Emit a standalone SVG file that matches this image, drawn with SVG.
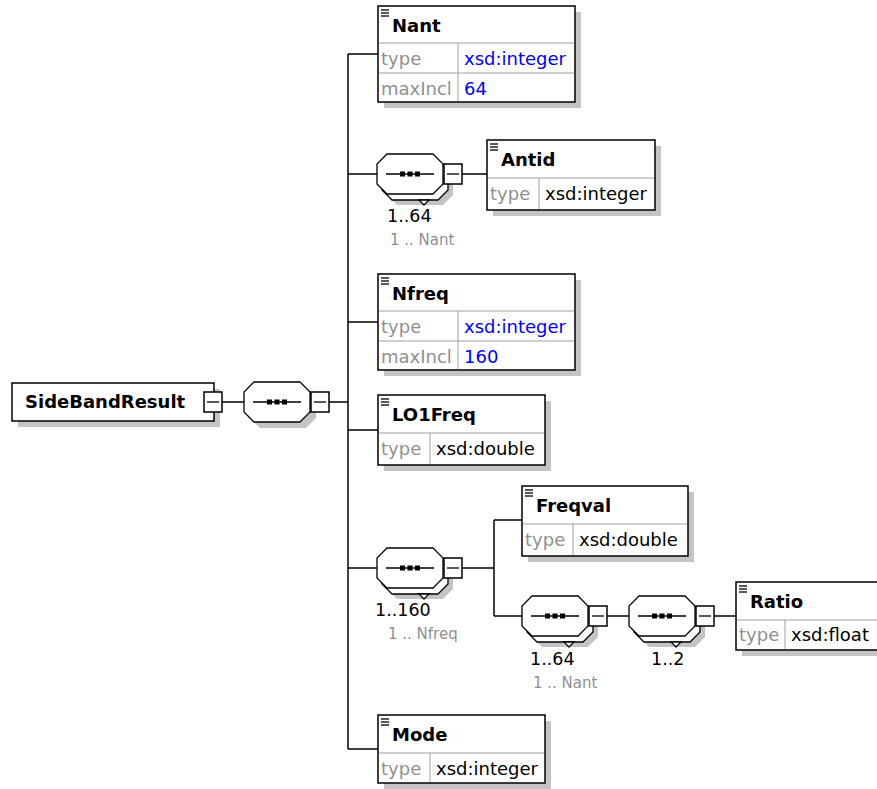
<svg xmlns="http://www.w3.org/2000/svg" width="877" height="789" viewBox="0 0 877 789">
<style>
.bg{fill:#fff}
.box{fill:#fff;stroke:#000;stroke-width:1.5}
.sh{fill:#c4c4c4}
.sep{stroke:#a0a0a0;stroke-width:1}
.conn{stroke:#000;stroke-width:1.5;fill:none}
.ico{stroke:#000;stroke-width:1.3}
.ttl{font-family:"DejaVu Sans",Verdana,sans-serif;font-weight:bold;font-size:18px;fill:#000}
.lbl{font-family:"DejaVu Sans",Verdana,sans-serif;font-size:18px;fill:#909090}
.val{font-family:"DejaVu Sans",Verdana,sans-serif;font-size:18px;fill:#000}
.blue{fill:#0000ff}
.occ{font-family:"DejaVu Sans",Verdana,sans-serif;font-size:17.5px;fill:#000}
.occ2{font-family:"DejaVu Sans",Verdana,sans-serif;font-size:15px;fill:#909090}
.oct{fill:#fff;stroke:#000;stroke-width:1.3}
</style>
<defs>
<g id="seqCore">
<polygon class="oct" points="10,0 56,0 66,10 66,30 56,40 10,40 0,30 0,10"/>
<line x1="9" y1="20" x2="57" y2="20" stroke="#000" stroke-width="1.3"/>
<rect x="23" y="17.5" width="5" height="5" fill="#000"/>
<rect x="30.5" y="17.5" width="5" height="5" fill="#000"/>
<rect x="38" y="17.5" width="5" height="5" fill="#000"/>
<rect x="67" y="10" width="18" height="20" class="box" stroke-width="1.3"/>
<line x1="70" y1="20" x2="82" y2="20" stroke="#000" stroke-width="1.3"/>
</g>
<g id="seqOne">
<polygon class="sh" points="16,6 62,6 72,16 72,36 62,46 16,46 6,36 6,16"/>
<use href="#seqCore"/>
</g>
<g id="seqMulti">
<polygon class="sh" points="20,11 66,11 76,21 76,41 66,51 20,51 10,41 10,21"/>
<polygon class="oct" points="15,6 61,6 71,16 71,36 61,46 15,46 5,36 5,16"/>
<polygon class="oct" points="42,46 52,46 47,51"/>
<use href="#seqCore"/>
</g>
<g id="icon">
<line class="ico" x1="3" y1="4" x2="11" y2="4"/>
<line class="ico" x1="3" y1="7" x2="11" y2="7"/>
<line class="ico" x1="3" y1="10" x2="11" y2="10"/>
</g>
</defs>
<rect class="bg" x="0" y="0" width="877" height="789"/>

<g id="connectors">
<line class="conn" x1="222" y1="402" x2="244" y2="402"/>
<line class="conn" x1="328" y1="402" x2="348" y2="402"/>
<line class="conn" x1="348" y1="54" x2="348" y2="749"/>
<line class="conn" x1="348" y1="54" x2="378" y2="54"/>
<line class="conn" x1="348" y1="174" x2="377" y2="174"/>
<line class="conn" x1="348" y1="322" x2="378" y2="322"/>
<line class="conn" x1="348" y1="430" x2="378" y2="430"/>
<line class="conn" x1="348" y1="568" x2="377" y2="568"/>
<line class="conn" x1="348" y1="749" x2="378" y2="749"/>
<line class="conn" x1="462" y1="174" x2="487" y2="174"/>
<line class="conn" x1="462" y1="568" x2="494" y2="568"/>
<line class="conn" x1="494" y1="520" x2="494" y2="616"/>
<line class="conn" x1="494" y1="520" x2="522" y2="520"/>
<line class="conn" x1="494" y1="616" x2="522" y2="616"/>
<line class="conn" x1="607" y1="616" x2="629" y2="616"/>
<line class="conn" x1="714" y1="616" x2="736" y2="616"/>
</g>

<g id="SideBandResult">
<rect class="sh" x="18" y="389" width="202" height="38"/>
<rect class="box" x="12" y="383" width="202" height="38"/>
<text class="ttl" x="25" y="408">SideBandResult</text>
<rect class="box" x="204" y="392" width="18" height="20" stroke-width="1.3"/>
<line x1="207" y1="402" x2="219" y2="402" stroke="#000" stroke-width="1.3"/>
</g>

<g id="seq-root"><use href="#seqOne" transform="translate(244,382)"/></g>

<g id="Nant">
<rect class="sh" x="384" y="12" width="197" height="96"/>
<rect class="box" x="378" y="6" width="197" height="96"/>
<use href="#icon" transform="translate(378,6)"/>
<text class="ttl" x="392" y="32">Nant</text>
<line class="sep" x1="379" y1="43" x2="574" y2="43"/>
<line class="sep" x1="379" y1="73" x2="574" y2="73"/>
<line class="sep" x1="458" y1="43" x2="458" y2="101"/>
<text class="lbl" x="381" y="65">type</text>
<text class="val blue" x="464" y="65">xsd:integer</text>
<text class="lbl" x="381" y="95">maxIncl</text>
<text class="val blue" x="464" y="95">64</text>
</g>

<g id="seq-Antid">
<use href="#seqMulti" transform="translate(377,154)"/>
<text class="occ" x="387" y="222">1..64</text>
<text class="occ2" x="390" y="245">1 .. Nant</text>
</g>

<g id="Antid">
<rect class="sh" x="493" y="146" width="168" height="70"/>
<rect class="box" x="487" y="140" width="168" height="70"/>
<use href="#icon" transform="translate(487,140)"/>
<text class="ttl" x="501" y="166">Antid</text>
<line class="sep" x1="488" y1="178" x2="654" y2="178"/>
<line class="sep" x1="539" y1="178" x2="539" y2="209"/>
<text class="lbl" x="490" y="200">type</text>
<text class="val" x="545" y="200">xsd:integer</text>
</g>

<g id="Nfreq">
<rect class="sh" x="384" y="280" width="197" height="96"/>
<rect class="box" x="378" y="274" width="197" height="96"/>
<use href="#icon" transform="translate(378,274)"/>
<text class="ttl" x="392" y="300">Nfreq</text>
<line class="sep" x1="379" y1="311" x2="574" y2="311"/>
<line class="sep" x1="379" y1="341" x2="574" y2="341"/>
<line class="sep" x1="458" y1="311" x2="458" y2="369"/>
<text class="lbl" x="381" y="333">type</text>
<text class="val blue" x="464" y="333">xsd:integer</text>
<text class="lbl" x="381" y="363">maxIncl</text>
<text class="val blue" x="464" y="363">160</text>
</g>

<g id="LO1Freq">
<rect class="sh" x="384" y="401" width="167" height="70"/>
<rect class="box" x="378" y="395" width="167" height="70"/>
<use href="#icon" transform="translate(378,395)"/>
<text class="ttl" x="392" y="421">LO1Freq</text>
<line class="sep" x1="379" y1="433" x2="544" y2="433"/>
<line class="sep" x1="430" y1="433" x2="430" y2="464"/>
<text class="lbl" x="381" y="455">type</text>
<text class="val" x="436" y="455">xsd:double</text>
</g>

<g id="seq-Freq">
<use href="#seqMulti" transform="translate(377,548)"/>
<text class="occ" x="375" y="616">1..160</text>
<text class="occ2" x="388" y="639">1 .. Nfreq</text>
</g>

<g id="Freqval">
<rect class="sh" x="528" y="492" width="166" height="70"/>
<rect class="box" x="522" y="486" width="166" height="70"/>
<use href="#icon" transform="translate(522,486)"/>
<text class="ttl" x="536" y="512">Freqval</text>
<line class="sep" x1="523" y1="524" x2="687" y2="524"/>
<line class="sep" x1="573" y1="524" x2="573" y2="555"/>
<text class="lbl" x="525" y="546">type</text>
<text class="val" x="579" y="546">xsd:double</text>
</g>

<g id="seq-Nant">
<use href="#seqMulti" transform="translate(522,596)"/>
<text class="occ" x="530" y="665">1..64</text>
<text class="occ2" x="533" y="688">1 .. Nant</text>
</g>

<g id="seq-Ratio">
<use href="#seqMulti" transform="translate(629,596)"/>
<text class="occ" x="651" y="665">1..2</text>
</g>

<g id="Ratio">
<rect class="sh" x="742" y="588" width="150" height="68"/>
<rect class="box" x="736" y="582" width="150" height="68"/>
<use href="#icon" transform="translate(736,582)"/>
<text class="ttl" x="750" y="608">Ratio</text>
<line class="sep" x1="737" y1="620" x2="885" y2="620"/>
<line class="sep" x1="785" y1="620" x2="785" y2="649"/>
<text class="lbl" x="739" y="641">type</text>
<text class="val" x="791" y="641">xsd:float</text>
</g>

<g id="Mode">
<rect class="sh" x="384" y="721" width="167" height="68"/>
<rect class="box" x="378" y="715" width="167" height="68"/>
<use href="#icon" transform="translate(378,715)"/>
<text class="ttl" x="392" y="741">Mode</text>
<line class="sep" x1="379" y1="753" x2="544" y2="753"/>
<line class="sep" x1="430" y1="753" x2="430" y2="782"/>
<text class="lbl" x="381" y="775">type</text>
<text class="val" x="436" y="775">xsd:integer</text>
</g>
</svg>
